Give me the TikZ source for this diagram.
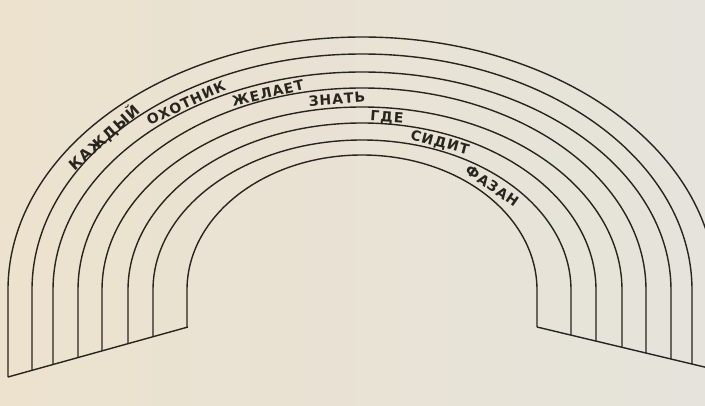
\documentclass[tikz,border=0pt]{standalone}
\usepackage{fontspec}
\setmainfont{DejaVu Sans}
\newfontfamily\handfont{DejaVu Sans}[LetterSpace=7]
\usetikzlibrary{positioning}
\definecolor{paperleft}{RGB}{236,226,206}
\definecolor{paperright}{RGB}{229,227,219}
\definecolor{inkdark}{RGB}{40,36,30}
\tikzset{
  band/.style={draw=inkdark, line width=1.4pt},
  word/.style={font=\handfont\bfseries\fontsize{14}{14}\selectfont, text=inkdark,
    inner sep=0pt, text height=10.2pt, text depth=0pt}
}

\begin{document}
\begin{tikzpicture}[x=1pt, y=1pt]
\shade[left color=paperleft, right color=paperright] (0,0) rectangle (705,405);
\useasboundingbox (0,0) rectangle (705,405);

% the eight arcs, cut off by the two slanted bottom lines
\begin{scope}
\clip (-10,23) -- (188,78) -- (537,78) -- (730,32) -- (730,420) -- (-10,420) -- cycle;
\foreach \a/\b in {354/253, 330/236, 309/218, 284/202, 260/183, 234/167, 209/150, 175/135}
  \draw[band] ({362-\a},0) -- ({362-\a},115)
    arc[start angle=180, end angle=0, x radius=\a, y radius=\b] -- ({362+\a},0);
\end{scope}

\coordinate (leftout)  at (8,28);
\coordinate (leftin)   at (188,78);
\coordinate (rightin)  at (537,78);
\coordinate (rightout) at (717,35);
\draw[band] (leftout) -- (leftin);
\draw[band] (rightin) -- (rightout);

% words, one per band
\node (kazhdyj) [word, rotate=42, font=\handfont\bfseries\fontsize{15}{15}\selectfont,
  text height=10.9pt] at (104,267) {КАЖДЫЙ};
\node (okhotnik)[word, rotate=25]  at (186,302) {ОХОТНИК};
\node (zhelaet) [word, rotate=13]  at (268,312) {ЖЕЛАЕТ};
\node (znat)    [word, rotate=4]   at (337,306) {ЗНАТЬ};
\node (gde)     [word, rotate=-4]  at (387,288) {ГДЕ};
\node (sidit)   [word, rotate=-15] at (440,263) {СИДИТ};
\node (fazan)   [word, rotate=-35] at (492,219) {ФАЗАН};
\end{tikzpicture}
\end{document}
